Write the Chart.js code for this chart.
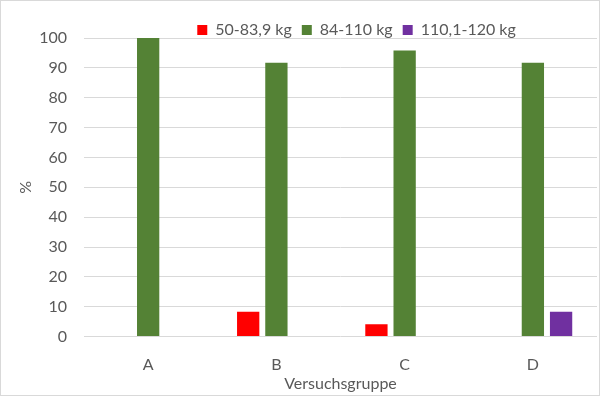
<!DOCTYPE html>
<html>
<head>
<meta charset="utf-8">
<script src="https://cdn.jsdelivr.net/npm/chart.js@4"></script>
<style>
  html, body { margin: 0; padding: 0; background: #ffffff; }
  #wrap { width: 600px; height: 396px; }
</style>
</head>
<body>
<div id="wrap"><canvas id="barChart" width="600" height="396"></canvas></div>
<script>
//Data variables
var groups = ["A", "B", "C", "D"];
var seriesNames = ["50-83,9 kg", "84-110 kg", "110,1-120 kg"];
var lightValues = [0, 8.33, 4.17, 0];
var middleValues = [100, 91.67, 95.83, 91.67];
var heavyValues = [0, 0, 0, 8.33];
var yTicks = [0, 10, 20, 30, 40, 50, 60, 70, 80, 90, 100];

var seriesColors = ["#ff0000", "#548235", "#7030a0"];
var textColor = "#595959";
var gridColor = "#d9d9d9";
var fontName = "Lato, 'Open Sans', sans-serif";
var fontSize = 16;

var myBarChart;

//Light frame around the whole picture + tighter legend box, nudged right
var framePlugin = {
  id: "frame",
  beforeInit: function(chart){
    var legend = chart.legend;
    if(legend){
      var origFit = legend.fit;
      legend.fit = function(){
        origFit.call(this);
        this.height = 26;
      };
    }
  },
  afterLayout: function(chart){
    if(chart.legend){
      chart.legend.left += 16;
      chart.legend.right += 16;
    }
  },
  afterDraw: function(chart){
    var ctx = chart.ctx;
    ctx.save();
    ctx.strokeStyle = gridColor;
    ctx.lineWidth = 1;
    ctx.strokeRect(0.5, 0.5, chart.width - 1, chart.height - 1);
    ctx.restore();
  }
};

function makeDataset(label, values, color){
  return {
    label: label,
    data: values,
    backgroundColor: color,
    borderWidth: 0,
    categoryPercentage: 0.66,
    barPercentage: 0.79
  };
}

function initFunctions(){
  var ctxB = document.getElementById("barChart").getContext("2d");
  myBarChart = new Chart(ctxB, {
    type: "bar",
    data: {
      labels: groups,
      datasets: [
        makeDataset(seriesNames[0], lightValues, seriesColors[0]),
        makeDataset(seriesNames[1], middleValues, seriesColors[1]),
        makeDataset(seriesNames[2], heavyValues, seriesColors[2])
      ]
    },
    options: {
      responsive: false,
      animation: false,
      layout: { padding: { left: 0, right: 3, top: 12, bottom: 3 } },
      plugins: {
        tooltip: { enabled: false },
        legend: {
          position: "top",
          fullSize: false,
          labels: {
            color: textColor,
            font: { family: fontName, size: fontSize },
            boxWidth: 10,
            boxHeight: 10,
            padding: 10
          }
        }
      },
      scales: {
        x: {
          grid: { display: false },
          border: { display: false },
          ticks: { color: textColor, font: { family: fontName, size: fontSize }, padding: 11 },
          title: {
            display: true,
            text: "Versuchsgruppe",
            color: textColor,
            font: { family: fontName, size: fontSize },
            padding: { top: -12, bottom: 0 }
          }
        },
        y: {
          min: 0,
          max: 100,
          afterBuildTicks: function(axis){
            axis.ticks = yTicks.map(function(v){ return { value: v }; });
          },
          grid: { color: gridColor, drawTicks: false },
          border: { display: false },
          ticks: { color: textColor, font: { family: fontName, size: fontSize }, padding: 17 },
          title: {
            display: true,
            text: "%",
            color: textColor,
            font: { family: fontName, size: fontSize },
            padding: { top: 16, bottom: -13 }
          }
        }
      }
    },
    plugins: [framePlugin]
  });
}

window.onload = initFunctions;
</script>
</body>
</html>
